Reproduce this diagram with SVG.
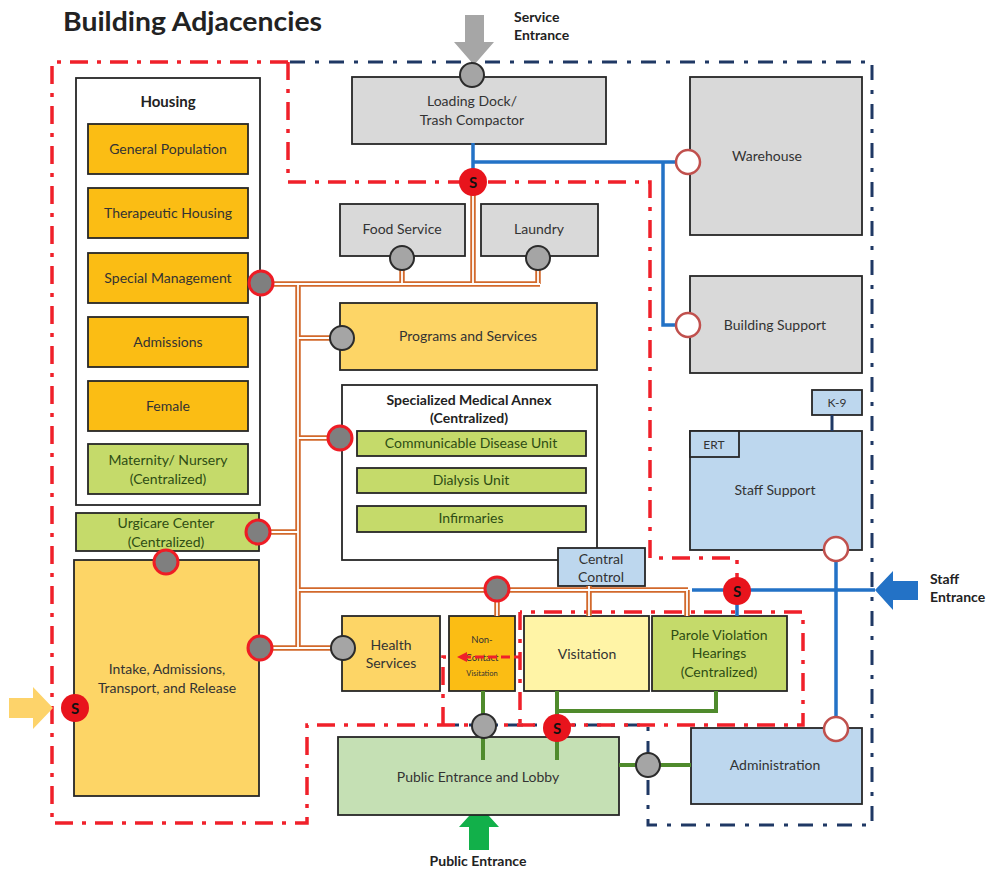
<svg xmlns="http://www.w3.org/2000/svg" width="986" height="870" viewBox="0 0 986 870">
<style>
.bx{stroke:#262626;stroke-width:1.8}
.t{font-family:Lato,"Open Sans","Liberation Sans",sans-serif;font-size:14px;fill:#333;text-anchor:middle}
.tg{fill:#2e4d14}
.b{font-weight:bold;fill:#222}
.red{fill:none;stroke:#f0202a;stroke-width:3.5;stroke-dasharray:18 9 4 9}
.navy{fill:none;stroke:#1f3864;stroke-width:3;stroke-dasharray:15 10 4 10}
.or{stroke:#d2692c;stroke-width:5.5;fill:none}
.orw{stroke:#fff;stroke-width:1.8;fill:none}
.bl{stroke:#2372c6;stroke-width:3.5;fill:none}
.gr{stroke:#4f8a2c;stroke-width:4;fill:none}
.cr{fill:#7f7f7f;stroke:#ee1c25;stroke-width:3}
.cg{fill:#a5a5a5;stroke:#2b2b2b;stroke-width:2}
.co{fill:#fff;stroke:#c0504d;stroke-width:2.5}
.cs{fill:#e8141c}
.st{font-family:Lato,"Liberation Sans",sans-serif;font-size:15px;font-weight:bold;fill:#111;text-anchor:middle}
.lbl{font-size:14px;text-anchor:start}
.gray{fill:#d9d9d9}
.amb{fill:#fbbd14}
.gold{fill:#fdd566}
.lime{fill:#c5da6a}
.lb{fill:#bdd7ee}
</style>

<text x="63" y="31" class="t b" style="font-size:26px;text-anchor:start" textLength="259" lengthAdjust="spacingAndGlyphs">Building Adjacencies</text>

<g id="boundaries">
<path class="navy" d="M290,62 H872 V825 H648 V725 H445"/>
<path class="red" d="M288,62 H52 V823 H307 V725 H803 V612 H520"/>
<path class="red" d="M288,62 V182 H650 V558 H737 V612"/>
<path class="red" d="M520,612 V725"/>
<path class="red" d="M443,725 V657 H449"/>
</g>

<g id="arrows">
<polygon points="465,15 484,15 484,42 494,42 474,65 454,42 465,42" fill="#a6a6a6"/>
<text x="514" y="22" class="t b lbl">Service</text>
<text x="514" y="40" class="t b lbl">Entrance</text>
<polygon points="875,590 893,571 893,581 918,581 918,600 893,600 893,610" fill="#2372c6"/>
<text x="930" y="584" class="t b lbl">Staff</text>
<text x="930" y="602" class="t b lbl">Entrance</text>
<polygon points="9,698 33,698 33,687 53,708 33,729 33,718 9,718" fill="#fdd36a"/>
<polygon points="479,805 499,827 489,827 489,850 469,850 469,827 459,827" fill="#12b04a"/>
<text x="478" y="866" class="t b">Public Entrance</text>
</g>

<g id="housing">
<rect x="76" y="78" width="184" height="427" fill="#fff" class="bx"/>
<text x="168" y="107" class="t b" style="font-size:15px">Housing</text>
</g>
<g id="general-population"><rect x="88" y="124" width="160" height="50" class="bx amb"/><text x="168" y="154" class="t">General Population</text></g>
<g id="therapeutic-housing"><rect x="88" y="188" width="160" height="50" class="bx amb"/><text x="168" y="218" class="t">Therapeutic Housing</text></g>
<g id="special-management"><rect x="88" y="253" width="160" height="50" class="bx amb"/><text x="168" y="283" class="t">Special Management</text></g>
<g id="admissions"><rect x="88" y="317" width="160" height="50" class="bx amb"/><text x="168" y="347" class="t">Admissions</text></g>
<g id="female"><rect x="88" y="381" width="160" height="50" class="bx amb"/><text x="168" y="411" class="t">Female</text></g>
<g id="maternity"><rect x="88" y="444" width="160" height="50" class="bx lime"/><text x="168" y="465" class="t tg">Maternity/ Nursery</text><text x="168" y="484" class="t tg">(Centralized)</text></g>
<g id="urgicare"><rect x="76" y="513" width="183" height="38" class="bx lime"/><text x="166" y="528" class="t tg">Urgicare Center</text><text x="166" y="547" class="t tg">(Centralized)</text></g>
<g id="intake"><rect x="74" y="560" width="185" height="236" class="bx gold"/><text x="167" y="674" class="t">Intake, Admissions,</text><text x="167" y="693" class="t">Transport, and Release</text></g>

<g id="loading-dock"><rect x="352" y="77" width="254" height="67" class="bx gray"/><text x="472" y="106" class="t">Loading Dock/</text><text x="472" y="125" class="t">Trash Compactor</text></g>
<g id="food-service"><rect x="340" y="204" width="125" height="52" class="bx gray"/><text x="402" y="234" class="t">Food Service</text></g>
<g id="laundry"><rect x="481" y="204" width="117" height="52" class="bx gray"/><text x="539" y="234" class="t">Laundry</text></g>
<g id="warehouse"><rect x="690" y="77" width="172" height="158" class="bx gray"/><text x="767" y="161" class="t">Warehouse</text></g>
<g id="building-support"><rect x="690" y="276" width="172" height="97" class="bx gray"/><text x="775" y="330" class="t">Building Support</text></g>
<g id="programs"><rect x="340" y="303" width="257" height="67" class="bx gold"/><text x="468" y="341" class="t">Programs and Services</text></g>
<g id="medical-annex">
<rect x="342" y="385" width="255" height="175" fill="#fff" class="bx"/>
<text x="469" y="405" class="t b">Specialized Medical Annex</text>
<text x="469" y="423" class="t b">(Centralized)</text>
</g>
<g id="communicable"><rect x="357" y="431" width="229" height="25" class="bx lime"/><text x="471" y="448" class="t tg">Communicable Disease Unit</text></g>
<g id="dialysis"><rect x="357" y="468" width="229" height="25" class="bx lime"/><text x="471" y="485" class="t tg">Dialysis Unit</text></g>
<g id="infirmaries"><rect x="357" y="506" width="229" height="26" class="bx lime"/><text x="471" y="523" class="t tg">Infirmaries</text></g>
<g id="central-control"><rect x="558" y="548" width="87" height="38" class="bx lb"/><text x="601" y="564" class="t">Central</text><text x="601" y="582" class="t">Control</text></g>
<g id="k9"><rect x="812" y="390" width="50" height="25" class="bx lb"/><text x="837" y="407" class="t" style="font-size:12px">K-9</text></g>
<g id="staff-support"><rect x="690" y="431" width="172" height="119" class="bx lb"/><text x="775" y="495" class="t">Staff Support</text></g>
<g id="ert"><rect x="690" y="431" width="49" height="26" class="bx lb"/><text x="714" y="449" class="t" style="font-size:12px">ERT</text></g>
<g id="health-services"><rect x="342" y="616" width="98" height="75" class="bx gold"/><text x="391" y="650" class="t">Health</text><text x="391" y="668" class="t">Services</text></g>
<g id="non-contact"><rect x="449" y="616" width="66" height="75" class="bx amb"/><text x="482" y="643" class="t" style="font-size:9.5px">Non-</text><text x="482" y="661" class="t" style="font-size:9.5px">Contact</text><text x="482" y="676" class="t" style="font-size:7.5px">Visitation</text></g>
<g id="visitation"><rect x="524" y="616" width="125" height="75" fill="#fff4a6" class="bx"/><text x="587" y="659" class="t">Visitation</text></g>
<g id="parole"><rect x="652" y="616" width="135" height="75" class="bx lime"/><text x="719" y="640" class="t tg">Parole Violation</text><text x="719" y="658" class="t tg">Hearings</text><text x="719" y="677" class="t tg">(Centralized)</text></g>
<g id="lobby"><rect x="338" y="737" width="281" height="78" fill="#c5e0b4" class="bx"/><text x="478" y="782" class="t">Public Entrance and Lobby</text></g>
<g id="administration"><rect x="691" y="728" width="171" height="76" class="bx lb"/><text x="775" y="770" class="t">Administration</text></g>

<g id="connectors">
<g class="or">
<path d="M261,284 H540 M402,258 V284 M538,258 V284 M473,182 V284 M298,284 V648 M298,338 H342 M298,438 H340 M258,532 H298 M298,590 H688 M260,648 H343 M497,589 V616 M589,586 V616 M687,590 V616"/>
</g>
<g class="orw">
<path d="M261,284 H540 M402,258 V284 M538,258 V284 M473,182 V284 M298,284 V648 M298,338 H342 M298,438 H340 M258,532 H298 M298,590 H688 M260,648 H343 M497,589 V616 M589,586 V616 M687,590 V616"/>
</g>
<path class="bl" d="M473,143 V182 M473,162 H688 M663,162 V325 H688 M692,590 H875 M737,590 V616 M836,549 V729"/>
<path d="M832,415 V431" stroke="#1f3864" stroke-width="3"/>
<path class="gr" d="M557,691 V711 H716 V691 M557,711 V760 M483,691 V760 M619,765 H691"/>
<path d="M462,657 H520" fill="none" stroke="#f0202a" stroke-width="3" stroke-dasharray="9 4"/>
<polygon points="457,657 467,652 467,662" fill="#f0202a"/>
</g>

<g id="junctions">
<circle class="cr" cx="261" cy="283" r="12"/>
<circle class="cr" cx="340" cy="438" r="12"/>
<circle class="cr" cx="258" cy="532" r="12"/>
<circle class="cr" cx="166" cy="562" r="12"/>
<circle class="cr" cx="260" cy="648" r="12"/>
<circle class="cr" cx="497" cy="589" r="12"/>
<circle class="cg" cx="472" cy="75" r="12"/>
<circle class="cg" cx="402" cy="258" r="12"/>
<circle class="cg" cx="538" cy="258" r="12"/>
<circle class="cg" cx="342" cy="338" r="12"/>
<circle class="cg" cx="343" cy="648" r="12"/>
<circle class="cg" cx="484" cy="726" r="12"/>
<circle class="cg" cx="648" cy="765" r="12"/>
<circle class="co" cx="688" cy="162" r="12"/>
<circle class="co" cx="688" cy="325" r="12"/>
<circle class="co" cx="836" cy="549" r="12"/>
<circle class="co" cx="836" cy="729" r="12"/>
<circle class="cs" cx="473" cy="182" r="14"/><text x="473" y="188" class="st">S</text>
<circle class="cs" cx="737" cy="591" r="14"/><text x="737" y="597" class="st">S</text>
<circle class="cs" cx="557" cy="728" r="14"/><text x="557" y="734" class="st">S</text>
<circle class="cs" cx="75" cy="708" r="14"/><text x="75" y="714" class="st">S</text>
</g>
</svg>
